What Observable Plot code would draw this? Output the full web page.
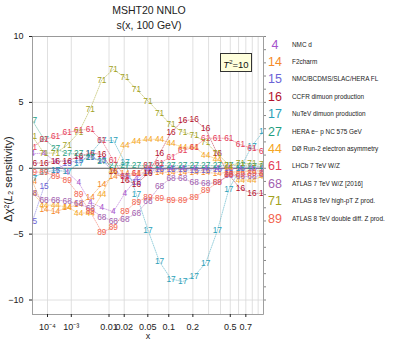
<!DOCTYPE html>
<html><head><meta charset="utf-8">
<script src="https://cdn.jsdelivr.net/npm/d3@7"></script>
<script src="https://cdn.jsdelivr.net/npm/@observablehq/plot@0.6"></script>
<style>
body{margin:0;background:#fff;font-family:"Liberation Sans",Arial,sans-serif;}
#wrap{position:relative;width:399px;height:340px;overflow:hidden;}
.t{position:absolute;white-space:nowrap;line-height:1;}
</style></head><body><div id="wrap"></div>
<script>
// x sampling points
const xGrid = [1.0e-5, 6.4e-5, 2.48e-4, 7.17e-4, 1.72e-3, 3.63e-3, 6.93e-3, 1.23e-2, 2.06e-2, 3.28e-2, 5.03e-2, 7.45e-2, 0.107, 0.151, 0.207, 0.279, 0.371, 0.484, 0.624, 0.794, 1.0];
const xTickVals = [1e-4, 1e-3, 0.01, 0.02, 0.05, 0.1, 0.2, 0.5, 0.7];
const xTickLabels = ["10⁻⁴", "10⁻³", "0.01", "0.02", "0.05", "0.1", "0.2", "0.5", "0.7"];
const xGridVals = [1e-4, 1e-3, 0.01, 0.02, 0.05, 0.1, 0.2, 0.3, 0.4, 0.5, 0.6, 0.7, 0.8, 0.9];
const yTickVals = [-10, -5, 0, 5, 10];

const ids = ["4", "14", "15", "16", "17", "27", "44", "61", "68", "71", "89"];
const names = ["NMC d", "F2charm", "NMC/BCDMS/SLAC/HERA FL", "CCFR dimuon production", "NuTeV dimuon production", "HERA e− p NC 575 GeV", "DØ Run-2 electron asymmetry", "LHCb 7 TeV W/Z", "ATLAS 7 TeV  W/Z [2016]", "ATLAS 8 TeV high-pT Z prod.", "ATLAS 8 TeV double diff. Z prod."];
const colors = ["#a653cc", "#f58a2a", "#6b63d6", "#b3122e", "#2b9fb8", "#1f9e7f", "#f5a623", "#e5405a", "#a35fb0", "#a2a21e", "#f2634e"];

const s4  = [1.1, 1.15, 0.5, -0.28, -1.1, -2.55, -3.0, -3.3, -1.9, -0.8, -0.1, 0.0, 0.0, 0.0, 0.0, 0.0, 0.0, 0.0, 0.0, 0.0, 0.0];
const s14 = [-1.0, -3.1, -3.3, -3.0, -2.75, -2.2, -1.25, -0.65, -0.4, -0.4, -0.3, -0.3, -0.3, -0.28, -0.33, -0.3, -0.4, -0.3, -0.25, -0.2, -0.2];
const s15 = [-4.0, -1.4, -0.15, 0.4, 0.6, 0.8, 0.6, -0.2, -0.6, -1.04, -0.2, -0.1, -0.1, -0.1, -0.15, -0.15, -0.1, 0.0, 0.0, 0.0, 0.0];
const s16 = [0.4, 0.4, 0.53, 0.55, 0.9, 1.15, 1.05, -0.2, -0.9, -1.2, -0.4, 1.1, 2.7, 3.6, 3.7, 3.0, 1.1, -0.5, -1.55, -1.9, -1.9];
const s17 = [-0.75, -0.3, -0.15, -0.25, 0.35, 1.1, 2.1, 2.1, 0.45, -2.0, -4.7, -7.1, -8.4, -8.6, -8.2, -7.2, -4.75, -1.6, 0.0, 1.7, 2.8];
const s27 = [3.6, 2.2, 1.5, 1.1, 1.1, 0.85, 0.5, 0.2, 0.2, 0.2, 0.2, 0.2, 0.2, 0.2, 0.2, 0.2, 0.2, 0.2, 0.2, 0.15, 0.15];
const s44 = [-1.9, -2.8, -2.8, -2.95, -3.4, -3.4, -2.0, -0.2, 1.75, 2.07, 2.2, 2.2, 1.9, 1.6, 1.6, 1.0, 0.7, 0.1, -0.9, -0.9, -0.6];
const s61 = [1.6, 2.2, 2.4, 2.7, 2.9, 2.95, 2.1, 0.6, -0.65, -0.4, 0.2, 0.4, 0.85, 1.35, 1.6, 2.25, 2.3, 2.25, 1.8, 1.5, 1.3];
const s68 = [-1.9, -2.4, -2.4, -2.5, -2.7, -3.05, -3.7, -4.0, -3.9, -3.4, -2.5, -1.4, -0.75, -0.78, -1.1, -1.16, -1.1, -0.55, -0.6, -0.65, -0.5];
const s71 = [2.4, 1.15, 1.15, 1.75, 2.7, 4.5, 6.7, 7.5, 6.9, 6.0, 5.1, 4.2, 3.3, 2.75, 2.5, 2.0, 1.1, 0.25, 0.35, 0.35, 0.3];
const s89 = [-0.3, -0.28, -0.6, -0.9, -2.0, -3.3, -4.85, -4.5, -3.3, -2.55, -2.2, -2.3, -2.4, -2.45, -2.2, -1.7, -1.1, -0.5, -0.5, -0.4, -0.4];
const series = [s4, s14, s15, s16, s17, s27, s44, s61, s68, s71, s89];

const rows = [];
series.forEach((vals, k) => vals.forEach((v, i) => {
  if (v != null) rows.push({x: xGrid[i], y: v, s: ids[k]});
}));

const W = 399, H = 340;
const chart = Plot.plot({
  width: W, height: H,
  marginLeft: 32, marginRight: 136, marginTop: 36, marginBottom: 26,
  style: {fontFamily: '"Liberation Sans", Arial, sans-serif', background: "white"},
  x: {type: "pow", exponent: 0.2, domain: [1e-5, 1]},
  y: {domain: [-11.1, 10]},
  color: {domain: ids, range: colors},
  marks: [
    Plot.gridX(xGridVals, {stroke: "#d8d8d8", strokeOpacity: 1, strokeWidth: 0.8}),
    Plot.gridY([-10, -5, 5, 10], {stroke: "#d8d8d8", strokeOpacity: 1, strokeWidth: 0.8}),
    Plot.ruleY([0], {stroke: "#555", strokeWidth: 1}),
    Plot.line(rows, {x: "x", y: "y", z: "s", stroke: "s", strokeWidth: 0.6, strokeDasharray: "1,1.3", strokeOpacity: 0.8, clip: true}),
    Plot.text(rows, {x: "x", y: "y", text: "s", fill: "s", fontSize: 8.3, clip: true}),
    Plot.frame({stroke: "#888", strokeWidth: 0.8}),
    Plot.axisX({ticks: xTickVals, tickFormat: (d, i) => xTickLabels[i], tickSize: 3, fontSize: 9, label: "x", labelAnchor: "center", labelArrow: "none", labelOffset: 24, color: "#222"}),
    Plot.axisY({ticks: yTickVals, tickFormat: d => d < 0 ? "−" + (-d) : String(d), tickSize: 3, fontSize: 9, label: null, color: "#222"}),
    Plot.axisY({anchor: "right", ticks: d3.range(-10, 11, 1), tickFormat: () => "", tickSize: 2, label: null, color: "#888"})
  ]
});
const wrap = document.getElementById("wrap");
wrap.appendChild(chart);

function addText(txt, left, top, css) {
  const d = document.createElement("div");
  d.className = "t";
  d.innerHTML = txt;
  d.style.left = left + "px";
  d.style.top = top + "px";
  Object.assign(d.style, css || {});
  wrap.appendChild(d);
  return d;
}
addText("MSHT20 NNLO", 49, 5, {width: "200px", textAlign: "center", fontSize: "10.5px", color: "#222"});
addText("s(x, 100 GeV)", 49, 20, {width: "200px", textAlign: "center", fontSize: "10.5px", color: "#222"});
addText("<i>T</i><sup style='font-size:6px;vertical-align:4px'>2</sup>=10", 220, 53, {width: "30px", height: "17px", lineHeight: "17px", textAlign: "center", fontSize: "9.5px", border: "1px solid #333", background: "#ffffdc", color: "#111"});
addText("Δχ²(<i>L</i>₂ sensitivity)", -52, 174, {width: "120px", textAlign: "center", fontSize: "11px", color: "#222", transform: "rotate(-90deg)", transformOrigin: "60px 5px"});

ids.forEach((id, k) => {
  const yc = 45 + 17.4 * k;
  addText(id, 260, yc - 6.5, {width: "30px", textAlign: "center", fontSize: "12.5px", color: colors[k]});
  addText(names[k], 292, yc - 3.5, {fontSize: "6.4px", color: "#222"});
});
</script></body></html>
